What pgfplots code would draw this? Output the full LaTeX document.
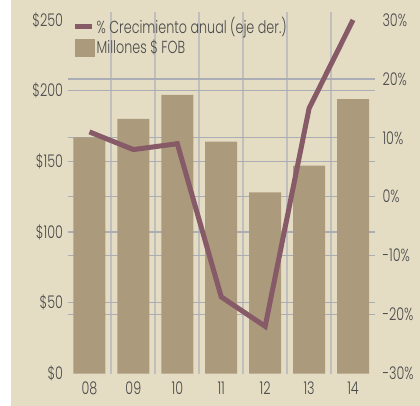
\documentclass[border=0pt]{standalone}
\usepackage{fontspec}
\setmainfont{Poppins Light}[FakeStretch=0.73]
\usepackage{pgfplots}
\pgfplotsset{compat=1.18}
\definecolor{bg}{HTML}{E4DDC4}
\definecolor{barc}{HTML}{AC9A7D}
\definecolor{linec}{HTML}{875A67}
\definecolor{hgrid}{HTML}{ABADB6}
\definecolor{vgrid}{HTML}{C0BFBE}
\definecolor{txt}{HTML}{4A4A4A}

\pgfplotsset{
  base/.style={
    scale only axis, width=307.5bp, height=361.5bp,
    at={(67.5bp,32.5bp)}, anchor=south west,
    xmin=-0.5, xmax=6.5,
    axis line style={draw=none},
    major tick length=0pt, minor tick length=0pt,
    tick label style={font=\fontsize{17.5}{17.5}\selectfont, text=txt},
    /pgf/number format/assume math mode=true,
  },
  lineleg/.style={legend image code/.code={\draw[##1] (0bp,0bp) -- (17bp,0bp);}},
  barleg/.style={legend image code/.code={\fill[barc] (0bp,-8.5bp) rectangle (19bp,8.5bp);}},
}

\begin{document}
\begin{tikzpicture}
  \path (0,0) rectangle (420bp,406bp);
  \fill[bg] (11bp,0) rectangle (420bp,406bp);

  % vertical grid between the years
  \begin{axis}[base, ymin=-30, ymax=31.35, ytick=\empty,
               xtick={0.5,1.5,...,5.5}, xticklabels={},
               xmajorgrids, grid style={vgrid, line width=2bp}]
    \addplot[draw=none] coordinates {(0,0)};
  \end{axis}

  % horizontal grid (in % units: $50..$200 sit at -18,-6,6,18)
  \begin{axis}[base, ymin=-30, ymax=31.35,
               ytick={-20,-18,-10,-6,0,6,10,18,20}, yticklabels={},
               ymajorgrids, grid style={hgrid, line width=1.3bp},
               xtick=\empty]
    \addplot[draw=none] coordinates {(0,0)};
  \end{axis}

  % bars, left axis
  \begin{axis}[base, ymin=0, ymax=255.625,
               ytick={0,50,...,250},
               yticklabels={\$0,\$50,\$100,\$150,\$200,\$250},
               xtick={0,...,6}, xticklabels={08,09,10,11,12,13,14},
               xticklabel style={yshift=-5bp},
               yticklabel style={xshift=-1bp}]
    \addplot[ybar, bar width=32bp, fill=barc, draw=none]
      coordinates {(0,167) (1,180) (2,197) (3,164) (4,128) (5,147) (6,194)};
  \end{axis}

  % growth line, right axis
  \begin{axis}[base, ymin=-30, ymax=31.35,
               ytick={-30,-20,...,30},
               yticklabels={-30\%,-20\%,-10\%,0\%,10\%,20\%,30\%},
               yticklabel pos=right,
               yticklabel style={anchor=west, xshift=4bp},
               xtick=\empty,
               legend cell align=left,
               legend style={at={(rel axis cs:0,1)}, anchor=north west,
                 xshift=4bp, yshift=-2bp, draw=none, fill=none,
                 font=\fontsize{17.5}{17.5}\selectfont, text=txt,
                 row sep=1bp, inner sep=1pt}]
    \addplot[linec, line width=5bp, lineleg]
      coordinates {(0,11) (1,8) (2,9) (3,-17) (4,-22) (5,15) (6,30)};
    \addlegendentry{\% Crecimiento anual (eje der.)}
    \addlegendimage{barleg}
    \addlegendentry{Millones \$ FOB}
  \end{axis}
\end{tikzpicture}
\end{document}
